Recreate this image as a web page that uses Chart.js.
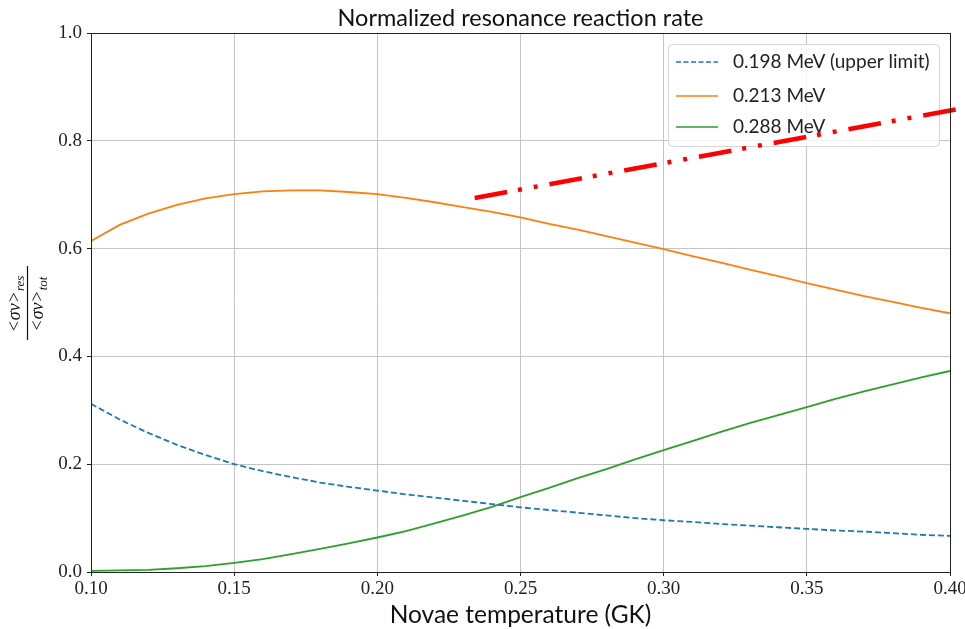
<!DOCTYPE html>
<html>
<head>
<meta charset="utf-8">
<script src="https://cdn.jsdelivr.net/npm/chart.js@4.4.1/dist/chart.umd.min.js"></script>
<style>
  html, body { margin: 0; padding: 0; background: #fff; }
  #wrap { width: 965px; height: 629px; position: relative; }
</style>
</head>
<body>
<div id="wrap"><canvas id="rateChart" width="965" height="629"></canvas></div>
<script>
// temperatures (GK)
var temps = [0.10, 0.11, 0.12, 0.13, 0.14, 0.15, 0.16, 0.17, 0.18, 0.19, 0.20,
             0.21, 0.22, 0.23, 0.24, 0.25, 0.26, 0.27, 0.28, 0.29, 0.30,
             0.31, 0.32, 0.33, 0.34, 0.35, 0.36, 0.37, 0.38, 0.39, 0.40];

// normalized resonance contributions
var rate198 = [0.312, 0.283, 0.258, 0.236, 0.217, 0.200, 0.187, 0.176, 0.166, 0.158, 0.151,
               0.144, 0.138, 0.132, 0.126, 0.120, 0.115, 0.110, 0.105, 0.100, 0.096,
               0.093, 0.089, 0.086, 0.083, 0.080, 0.077, 0.075, 0.072, 0.069, 0.067];
var rate213 = [0.614, 0.644, 0.665, 0.681, 0.693, 0.701, 0.706, 0.708, 0.708, 0.705, 0.701,
               0.694, 0.686, 0.677, 0.668, 0.658, 0.646, 0.635, 0.623, 0.611, 0.599,
               0.586, 0.574, 0.561, 0.549, 0.536, 0.524, 0.512, 0.501, 0.490, 0.480];
var rate288 = [0.002, 0.003, 0.004, 0.007, 0.011, 0.017, 0.024, 0.033, 0.043, 0.053, 0.064,
               0.076, 0.090, 0.105, 0.121, 0.139, 0.156, 0.174, 0.191, 0.209, 0.226,
               0.243, 0.260, 0.276, 0.291, 0.306, 0.321, 0.335, 0.348, 0.361, 0.373];

// red dash-dot-dot guide line
var guideT = [0.234, 0.41];
var guideRate = [0.694, 0.866];

var seriesLabels = ['0.198 MeV (upper limit)', '0.213 MeV', '0.288 MeV'];
var xTicks = [0.10, 0.15, 0.20, 0.25, 0.30, 0.35, 0.40];
var yTicks = [0.0, 0.2, 0.4, 0.6, 0.8, 1.0];

function pts(xs, ys) {
  return xs.map(function (x, i) { return { x: x, y: ys[i] }; });
}

var colBlue = '#1f77b4', colOrange = '#ff7f0e', colGreen = '#2ca02c';
var tickFont = { family: '"Liberation Serif", "DejaVu Serif", serif', size: 19 };
var sansFam = 'Lato, "Open Sans", "DejaVu Sans", sans-serif';

// title, legend, frame and y label drawn by hand
var extras = {
  id: 'extras',
  beforeDatasetDraw: function (chart, args) {
    if (args.index !== 3) return;
    var ctx = chart.ctx;
    ctx.save();
    var bx = 668, by = 44, bw = 271, bh = 102, r = 4;
    ctx.beginPath();
    ctx.roundRect(bx + 0.5, by + 0.5, bw, bh, r);
    ctx.fillStyle = 'rgba(255,255,255,0.8)';
    ctx.fill();
    ctx.strokeStyle = '#d5d5d5';
    ctx.lineWidth = 1;
    ctx.stroke();
    var rows = [62, 96, 127];
    var cols = [colBlue, colOrange, colGreen];
    ctx.font = '19px ' + sansFam;
    ctx.textBaseline = 'middle';
    ctx.fillStyle = '#222';
    for (var i = 0; i < 3; i++) {
      ctx.beginPath();
      ctx.setLineDash(i === 0 ? [5, 2.5] : []);
      ctx.strokeStyle = cols[i];
      ctx.lineWidth = 1.6;
      ctx.moveTo(676, rows[i]);
      ctx.lineTo(718, rows[i]);
      ctx.stroke();
      ctx.fillText(seriesLabels[i], 733, rows[i]);
    }
    ctx.restore();
  },
  afterDraw: function (chart) {
    var ctx = chart.ctx, a = chart.chartArea;
    ctx.save();
    // frame
    ctx.strokeStyle = '#222';
    ctx.lineWidth = 1;
    ctx.strokeRect(Math.round(a.left) + 0.5, Math.round(a.top) + 0.5,
                   Math.round(a.right - a.left), Math.round(a.bottom - a.top));
    // title
    ctx.fillStyle = '#111';
    ctx.font = '23.5px ' + sansFam;
    ctx.textAlign = 'center';
    ctx.textBaseline = 'alphabetic';
    ctx.fillText('Normalized resonance reaction rate', (a.left + a.right) / 2, 26);
    // x label
    ctx.font = '24.5px ' + sansFam;
    ctx.fillText('Novae temperature (GK)', (a.left + a.right) / 2, 623);
    // y label: <σv>_res / <σv>_tot
    ctx.translate(27, 303);
    ctx.rotate(-Math.PI / 2);
    ctx.beginPath();
    ctx.moveTo(-37, 0.5);
    ctx.lineTo(37, 0.5);
    ctx.lineWidth = 1.2;
    ctx.strokeStyle = '#111';
    ctx.stroke();
    function frac(y, sub) {
      var parts = [
        ['<', '18px "Liberation Serif", serif', 0],
        ['σv', 'italic 18px "Liberation Serif", serif', 0],
        ['>', '18px "Liberation Serif", serif', 0],
        [sub, 'italic 13px "Liberation Serif", serif', 4]
      ];
      var w = 0, i;
      for (i = 0; i < parts.length; i++) {
        ctx.font = parts[i][1];
        w += ctx.measureText(parts[i][0]).width + 1;
      }
      var x = -w / 2;
      ctx.textAlign = 'left';
      for (i = 0; i < parts.length; i++) {
        ctx.font = parts[i][1];
        ctx.fillText(parts[i][0], x, y + parts[i][2]);
        x += ctx.measureText(parts[i][0]).width + 1;
      }
    }
    frac(-7, 'res');
    frac(16, 'tot');
    ctx.restore();
  }
};

var chart = new Chart(document.getElementById('rateChart'), {
  type: 'line',
  data: {
    datasets: [
      { label: seriesLabels[0], data: pts(temps, rate198), borderColor: colBlue,
        borderWidth: 1.8, borderDash: [6, 3], order: 1 },
      { label: seriesLabels[1], data: pts(temps, rate213), borderColor: colOrange,
        borderWidth: 1.8, order: 1 },
      { label: seriesLabels[2], data: pts(temps, rate288), borderColor: colGreen,
        borderWidth: 1.8, order: 1 },
      { label: 'guide', data: pts(guideT, guideRate), borderColor: '#ff0000',
        borderWidth: 4.5, borderDash: [33, 11, 4, 12, 4, 12], borderCapStyle: 'butt',
        clip: false, order: 0 }
    ]
  },
  options: {
    responsive: false,
    animation: false,
    elements: { point: { radius: 0 }, line: { tension: 0 } },
    layout: { padding: { left: 0, right: 15, top: 33, bottom: 0 } },
    plugins: {
      legend: { display: false },
      title: { display: false },
      tooltip: { enabled: false }
    },
    scales: {
      x: {
        type: 'linear', min: 0.10, max: 0.40,
        afterBuildTicks: function (s) { s.ticks = xTicks.map(function (v) { return { value: v }; }); },
        afterFit: function (s) { s.height = 57; s.paddingLeft = 0; s.paddingRight = 0; },
        ticks: { font: tickFont, color: '#222', padding: 2, maxRotation: 0,
                 callback: function (v) { return v.toFixed(2); } },
        grid: { color: '#c4c4c4', lineWidth: 1, tickLength: 4, tickColor: '#222' },
        border: { display: false }
      },
      y: {
        min: 0, max: 1,
        afterBuildTicks: function (s) { s.ticks = yTicks.map(function (v) { return { value: v }; }); },
        afterFit: function (s) { s.width = 91; s.paddingTop = 0; s.paddingBottom = 0; },
        ticks: { font: tickFont, color: '#222', padding: 5,
                 callback: function (v) { return v.toFixed(1); } },
        grid: { color: '#c4c4c4', lineWidth: 1, tickLength: 4, tickColor: '#222' },
        border: { display: false }
      }
    }
  },
  plugins: [extras]
});
</script>
</body>
</html>
